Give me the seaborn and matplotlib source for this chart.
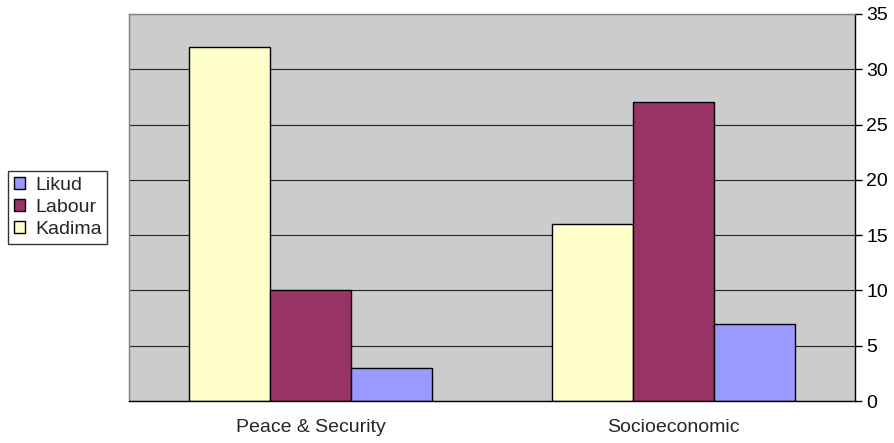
import pandas as pd
import matplotlib
matplotlib.use("Agg")
import matplotlib.pyplot as plt
import seaborn as sns

categories = ["Peace & Security", "Socioeconomic"]
kadima = [32, 16]
labour = [10, 27]
likud = [3, 7]

df = pd.DataFrame({
    "category": categories * 3,
    "party": ["Kadima"] * 2 + ["Labour"] * 2 + ["Likud"] * 2,
    "value": kadima + labour + likud,
})

sns.set_style("white")
plt.rcParams["font.family"] = ["Liberation Sans", "DejaVu Sans"]

palette = {"Kadima": "#FFFFCC", "Labour": "#993366", "Likud": "#9999FF"}

fig = plt.figure(figsize=(8.95, 4.43), dpi=100)
ax = fig.add_axes([0.1441, 0.0948, 0.8112, 0.8736])
ax.set_facecolor("#CCCCCC")

sns.barplot(data=df, x="category", y="value", hue="party",
            hue_order=["Kadima", "Labour", "Likud"], palette=palette,
            width=0.67, edgecolor="black", linewidth=1, saturation=1, ax=ax)

ax.set_ylim(0, 35)
ax.set_xlim(-0.5, 1.5)
ax.set_yticks(range(0, 36, 5))
ax.yaxis.tick_right()
ax.yaxis.set_label_position("right")
ax.set_xlabel("")
ax.set_ylabel("")
ax.grid(axis="y", color="#222222", linewidth=0.8)
ax.set_axisbelow(True)

for s in ax.spines.values():
    s.set_color("#808080")
    s.set_linewidth(1)
ax.spines["right"].set_color("black")
ax.spines["bottom"].set_color("black")

ax.tick_params(axis="y", which="major", direction="out", length=5, width=1,
               colors="black", labelsize=14, pad=3, right=True, left=False)
ax.set_xticks([-0.5, 0.5, 1.5], minor=True)
ax.tick_params(axis="x", which="minor", direction="out", length=6, width=1, color="black")
ax.tick_params(axis="x", which="major", length=0, labelsize=14, pad=13)

handles, labels = ax.get_legend_handles_labels()
order = [labels.index(n) for n in ["Likud", "Labour", "Kadima"]]
leg = ax.legend([handles[i] for i in order], [labels[i] for i in order],
                loc="center left", bbox_to_anchor=(-0.167, 0.5),
                frameon=True, fancybox=False, edgecolor="black",
                fontsize=14, handlelength=0.6, handleheight=0.6,
                handletextpad=0.5, borderpad=0.3, labelspacing=0.25,
                borderaxespad=0)
leg.get_frame().set_linewidth(1)

fig.savefig("out.png", dpi=100)
